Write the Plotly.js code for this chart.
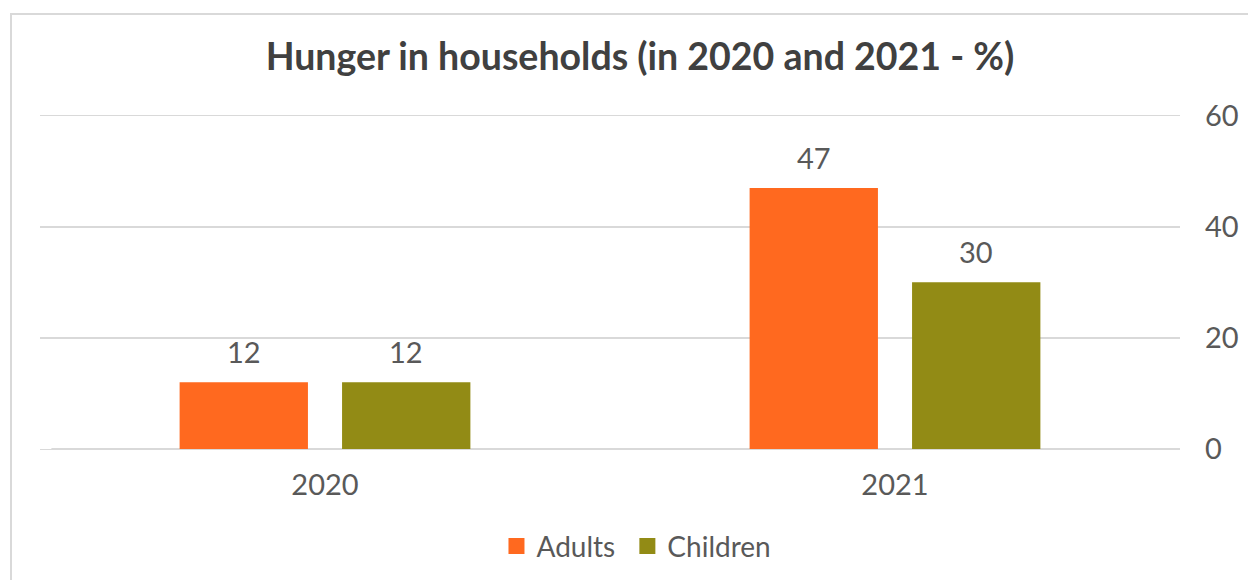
<!DOCTYPE html>
<html>
<head>
<meta charset="utf-8">
<script src="https://cdn.plot.ly/plotly-3.0.1.min.js"></script>
<style>
html,body{margin:0;padding:0;background:#fff;overflow:hidden;}
#wrap{position:relative;width:1248px;height:580px;}
#chart{position:absolute;left:0;top:0;width:1248px;height:580px;}
#frame{position:absolute;left:10px;top:13px;width:1260px;height:600px;border:2px solid #d9d9d9;box-sizing:border-box;pointer-events:none;}
</style>
</head>
<body>
<div id="wrap"><div id="chart"></div><div id="frame"></div></div>
<script>
const categories = ["2020", "2021"];
const seriesNames = ["Adults", "Children"];
const adults = [12, 47];
const children = [12, 30];
const yTicks = [0, 20, 40, 60];

const colors = ["#FF691F", "#928B15"];
const series = [adults, children];
const font = "Lato, 'Open Sans', sans-serif";
const textColor = "#595959";

const traces = series.map((vals, i) => ({
  type: "bar",
  name: seriesNames[i],
  x: categories,
  y: vals,
  marker: {color: colors[i]},
  showlegend: false,
  hoverinfo: "x+y+name"
}));
// legend entries with larger square swatches (on a hidden axis pair)
seriesNames.forEach((n, i) => traces.push({
  type: "scatter", mode: "markers",
  name: i < seriesNames.length - 1 ? n + "\u00a0" : n,
  x: [0], y: [null], xaxis: "x2", yaxis: "y2",
  marker: {symbol: "square", size: 18, color: colors[i]},
  showlegend: true, hoverinfo: "skip"
}));

const annotations = [];
series.forEach((vals, i) => {
  vals.forEach((v, j) => {
    annotations.push({
      x: j, y: v, xref: "x", yref: "y",
      text: String(v), showarrow: false,
      xanchor: "center", yanchor: "bottom",
      xshift: (i === 0 ? -81 : 81), yshift: 11,
      font: {family: font, size: 29, color: textColor}
    });
  });
});

const layout = {
  width: 1248, height: 580,
  margin: {l: 40, r: 68, t: 114.3, b: 131},
  paper_bgcolor: "#ffffff", plot_bgcolor: "#ffffff",
  font: {family: font, color: textColor, size: 29},
  title: {
    text: "<b>Hunger in households (in 2020 and 2021 - %)</b>",
    font: {family: font, size: 37.5, color: "#404040"},
    xref: "container", yref: "container",
    x: 0.5128, xanchor: "center",
    y: 0.902, yanchor: "middle"
  },
  barmode: "group",
  bargap: 0.43,
  bargroupgap: 0.21,
  xaxis: {
    type: "category",
    range: [-0.5, 1.5],
    showgrid: false, showline: false, zeroline: false,
    ticks: "", ticklabelstandoff: 16,
    tickfont: {family: font, size: 29, color: textColor}
  },
  yaxis: {
    side: "right",
    range: [0, 60.3],
    tickvals: yTicks,
    ticktext: yTicks.map(String),
    showgrid: true, gridcolor: "#d9d9d9", gridwidth: 1.5,
    zeroline: true, zerolinecolor: "#d9d9d9", zerolinewidth: 1.5,
    showline: false, ticks: "", ticklabelstandoff: 24,
    tickfont: {family: font, size: 29, color: textColor}
  },
  xaxis2: {visible: false, domain: [0, 0.01], anchor: "y2", range: [0, 1]},
  yaxis2: {visible: false, domain: [0, 0.01], anchor: "x2", range: [0, 1]},
  legend: {
    orientation: "h",
    x: 0.5100, xref: "container", xanchor: "center",
    y: 0.058, yref: "container", yanchor: "middle",
    font: {family: font, size: 28, color: textColor},
    itemwidth: 30, traceorder: "normal"
  },
  annotations: annotations,
  showlegend: true
};

Plotly.newPlot("chart", traces, layout, {displayModeBar: false, staticPlot: true});
</script>
</body>
</html>
